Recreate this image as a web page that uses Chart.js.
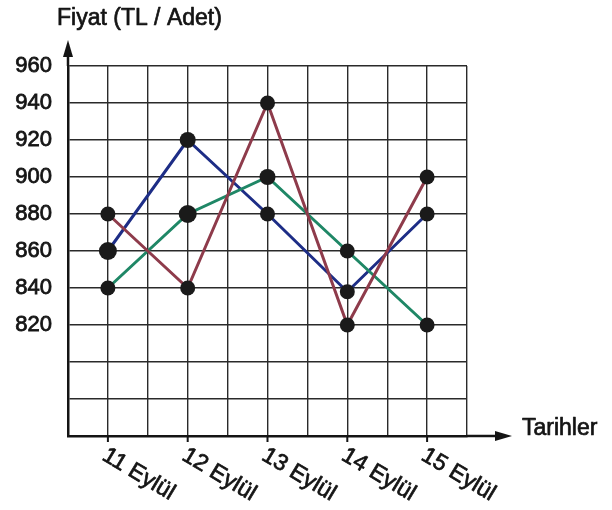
<!DOCTYPE html>
<html>
<head>
<meta charset="utf-8">
<script src="https://cdn.jsdelivr.net/npm/chart.js@4/dist/chart.umd.min.js"></script>
<style>
  html, body { margin: 0; padding: 0; background: #fff; }
  canvas { display: block; }
</style>
</head>
<body>
<canvas id="c" width="612" height="510"></canvas>
<script>
// Dates shown along the horizontal axis
const dates = ['11 Eylül', '12 Eylül', '13 Eylül', '14 Eylül', '15 Eylül'];
// Price series (TL / Adet)
const redPrices   = [880, 840, 940, 820, 900];
const bluePrices  = [860, 920, 880, 838, 880];
const greenPrices = [840, 880, 900, 860, 820];
// Labelled price ticks
const priceTicks = [820, 840, 860, 880, 900, 920, 940, 960];

const yMin = 760, yMax = 960, yStep = 20;
// each date sits on every second vertical grid line
const slotOf = i => 2 * i + 1;
const toPoints = arr => arr.map((v, i) => ({ x: slotOf(i), y: v }));

const FONT = '"Liberation Sans", Arial, sans-serif';
const INK = '#141414';

// heavier-looking text: fill plus a thin outline
function inkText(ctx, text, x, y) {
  ctx.fillText(text, x, y);
  ctx.strokeText(text, x, y);
}

const axisDecor = {
  id: 'axisDecor',
  afterDraw(chart) {
    const { ctx, chartArea: a, scales } = chart;
    const xs = scales.x;
    ctx.save();
    ctx.fillStyle = INK;
    ctx.strokeStyle = INK;

    // vertical axis arrow
    ctx.lineWidth = 2.5;
    ctx.beginPath();
    ctx.moveTo(a.left, a.top);
    ctx.lineTo(a.left, a.top - 12);
    ctx.stroke();
    ctx.beginPath();
    ctx.moveTo(a.left, a.top - 26);
    ctx.lineTo(a.left - 5, a.top - 9);
    ctx.lineTo(a.left + 5, a.top - 9);
    ctx.closePath();
    ctx.fill();

    // horizontal axis arrow
    ctx.beginPath();
    ctx.moveTo(a.right, a.bottom);
    ctx.lineTo(a.right + 32, a.bottom);
    ctx.stroke();
    ctx.beginPath();
    ctx.moveTo(a.right + 45, a.bottom);
    ctx.lineTo(a.right + 28, a.bottom - 5);
    ctx.lineTo(a.right + 28, a.bottom + 5);
    ctx.closePath();
    ctx.fill();

    // axis titles
    ctx.font = '23px ' + FONT;
    ctx.lineWidth = 0.7;
    ctx.lineJoin = 'round';
    ctx.textAlign = 'left';
    ctx.textBaseline = 'alphabetic';
    inkText(ctx, 'Fiyat (TL / Adet)', a.left - 11, a.top - 41);
    inkText(ctx, 'Tarihler', a.right + 55, a.bottom - 1);

    // date ticks and slanted date labels
    ctx.font = '23px ' + FONT;
    dates.forEach((d, i) => {
      const px = xs.getPixelForValue(slotOf(i));
      ctx.lineWidth = 2;
      ctx.beginPath();
      ctx.moveTo(px, a.bottom);
      ctx.lineTo(px, a.bottom + 6);
      ctx.stroke();
      ctx.save();
      ctx.translate(px - 7, a.bottom + 23);
      ctx.rotate(Math.PI / 5.8);
      ctx.lineWidth = 0.7;
      inkText(ctx, d, 0, 0);
      ctx.restore();
    });
    ctx.restore();
  }
};

const lineSet = (label, data, color, radii) => ({
  label,
  data: toPoints(data),
  borderColor: color,
  borderWidth: 3,
  tension: 0,
  pointRadius: radii,
  pointHoverRadius: radii,
  pointBackgroundColor: '#1a1a1a',
  pointBorderWidth: 0
});

new Chart(document.getElementById('c'), {
  type: 'line',
  data: {
    datasets: [
      lineSet('Kırmızı', redPrices, '#8e3b4b', 7.5),
      lineSet('Yeşil', greenPrices, '#1f8766', [7.5, 9, 8, 7.5, 7.5]),
      lineSet('Mavi', bluePrices, '#1d2d86', [9, 8, 7.5, 7.5, 7.5])
    ]
  },
  options: {
    responsive: false,
    animation: false,
    layout: { padding: { top: 66, right: 145, left: 0, bottom: 0 } },
    plugins: { legend: { display: false }, tooltip: { enabled: false } },
    scales: {
      x: {
        type: 'linear',
        min: 0,
        max: 2 * dates.length,
        ticks: { display: false, stepSize: 1 },
        grid: { color: '#2a2a2a', lineWidth: 1.4, drawTicks: false },
        border: { display: true, color: INK, width: 2.5 },
        afterFit(s) { s.height = 74; }
      },
      y: {
        type: 'linear',
        min: yMin,
        max: yMax,
        afterBuildTicks(s) {
          const t = [];
          for (let v = yMin; v <= yMax; v += yStep) t.push({ value: v });
          s.ticks = t;
        },
        ticks: {
          callback: v => (priceTicks.includes(v) ? String(v) : ''),
          color: INK,
          padding: 16,
          textStrokeColor: INK,
          textStrokeWidth: 0.8,
          font: { family: FONT, size: 22 }
        },
        grid: { color: '#2a2a2a', lineWidth: 1.4, drawTicks: false },
        border: { display: true, color: INK, width: 2.5 },
        afterFit(s) { s.width = 68; }
      }
    }
  },
  plugins: [axisDecor]
});
</script>
</body>
</html>
